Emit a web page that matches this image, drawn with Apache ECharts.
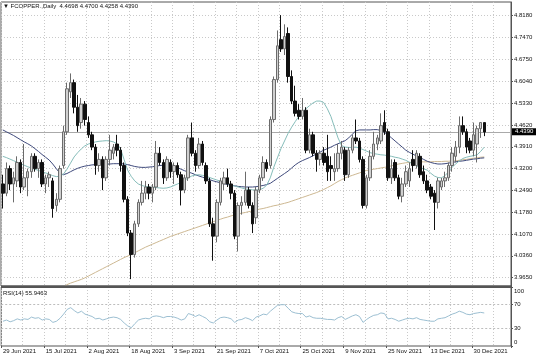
<!DOCTYPE html>
<html><head><meta charset="utf-8">
<script src="https://cdn.jsdelivr.net/npm/echarts@6/dist/echarts.min.js"></script>
<style>html,body{margin:0;padding:0;background:#fff}#c{width:536px;height:357px}</style>
</head><body><div id="c"></div>
<script>
const symbolName = 'FCOPPER.,Daily';
const tickLabels = ['29 Jun 2021','15 Jul 2021','2 Aug 2021','18 Aug 2021','3 Sep 2021','21 Sep 2021','7 Oct 2021','25 Oct 2021','9 Nov 2021','25 Nov 2021','13 Dec 2021','30 Dec 2021'];
const priceTicks = [3.9650,4.0360,4.1070,4.1780,4.2490,4.3200,4.3910,4.4620,4.5330,4.6040,4.6750,4.7470,4.8180];
const rsiTicks = [0,30,70,100];
const rsiLevels = [30,70];

const opens = [4.27,4.24,4.32,4.27,4.28,4.34,4.26,4.29,4.31,4.36, 4.32,4.34,4.27,4.29,4.28,4.20,4.22,4.33,4.44,4.57, 4.60,4.52,4.47,4.53,4.47,4.43,4.39,4.33,4.35,4.29, 4.35,4.37,4.40,4.38,4.33,4.22,4.11,4.04,4.14,4.21, 4.24,4.26,4.24,4.26,4.37,4.34,4.29,4.34,4.31,4.33, 4.30,4.25,4.29,4.42,4.37,4.33,4.40,4.33,4.28,4.14, 4.10,4.21,4.27,4.29,4.27,4.24,4.10,4.20,4.21,4.25, 4.20,4.16,4.25,4.29,4.34,4.33,4.48,4.61,4.74,4.71, 4.76,4.62,4.54,4.51,4.49,4.51,4.38,4.43,4.37,4.35, 4.37,4.36,4.33,4.31,4.32,4.37,4.38,4.30,4.38,4.42, 4.41,4.35,4.20,4.29,4.36,4.40,4.41,4.47,4.44,4.29, 4.34,4.29,4.23,4.27,4.28,4.35,4.33,4.36,4.31,4.28, 4.26,4.24,4.21,4.26,4.28,4.29,4.33,4.36,4.39,4.46, 4.44,4.41,4.38,4.40,4.45,4.4698];
const highs = [4.30,4.34,4.33,4.31,4.36,4.35,4.40,4.32,4.37,4.37, 4.35,4.35,4.30,4.31,4.29,4.24,4.33,4.46,4.60,4.63, 4.61,4.56,4.55,4.54,4.49,4.44,4.40,4.37,4.36,4.36, 4.43,4.40,4.43,4.39,4.34,4.23,4.12,4.15,4.22,4.28, 4.28,4.27,4.27,4.41,4.39,4.35,4.36,4.35,4.34,4.34, 4.31,4.30,4.43,4.47,4.38,4.42,4.41,4.34,4.29,4.16, 4.22,4.29,4.31,4.32,4.28,4.25,4.21,4.23,4.31,4.26, 4.21,4.26,4.30,4.36,4.35,4.49,4.62,4.77,4.82,4.79, 4.78,4.64,4.59,4.53,4.55,4.52,4.45,4.44,4.38,4.38, 4.39,4.43,4.36,4.37,4.40,4.41,4.39,4.39,4.43,4.48, 4.42,4.36,4.30,4.38,4.44,4.43,4.50,4.51,4.45,4.35, 4.35,4.30,4.29,4.33,4.34,4.38,4.38,4.37,4.33,4.30, 4.27,4.25,4.29,4.29,4.31,4.34,4.39,4.41,4.49,4.49, 4.45,4.42,4.47,4.46,4.47,4.4700];
const lows = [4.19,4.23,4.25,4.21,4.26,4.24,4.25,4.23,4.29,4.31, 4.29,4.26,4.24,4.26,4.16,4.18,4.21,4.32,4.43,4.55, 4.50,4.44,4.45,4.46,4.42,4.38,4.30,4.31,4.25,4.28, 4.33,4.35,4.36,4.31,4.21,4.10,3.96,4.03,4.13,4.20, 4.22,4.22,4.21,4.25,4.33,4.27,4.28,4.29,4.27,4.29, 4.20,4.24,4.28,4.36,4.31,4.32,4.33,4.27,4.13,4.02, 4.08,4.20,4.25,4.26,4.22,4.09,4.05,4.17,4.20,4.19, 4.11,4.14,4.24,4.28,4.31,4.32,4.47,4.60,4.70,4.69, 4.60,4.53,4.49,4.48,4.48,4.37,4.37,4.36,4.31,4.33, 4.33,4.28,4.28,4.28,4.31,4.35,4.28,4.29,4.37,4.40, 4.34,4.19,4.19,4.28,4.35,4.38,4.40,4.43,4.28,4.27, 4.28,4.22,4.21,4.26,4.26,4.31,4.32,4.29,4.27,4.24, 4.22,4.12,4.19,4.25,4.26,4.28,4.31,4.34,4.37,4.43, 4.37,4.37,4.36,4.34,4.42,4.4258];
const closes = [4.24,4.32,4.27,4.29,4.34,4.26,4.29,4.31,4.36,4.32, 4.34,4.27,4.29,4.30,4.19,4.22,4.32,4.44,4.58,4.60, 4.52,4.46,4.53,4.48,4.43,4.39,4.33,4.35,4.29,4.35, 4.38,4.39,4.38,4.33,4.22,4.11,4.04,4.14,4.21,4.24, 4.26,4.24,4.26,4.37,4.34,4.29,4.35,4.31,4.33,4.30, 4.25,4.29,4.42,4.37,4.33,4.40,4.34,4.28,4.14,4.10, 4.21,4.28,4.29,4.27,4.24,4.10,4.20,4.21,4.25,4.20, 4.14,4.25,4.29,4.34,4.32,4.48,4.61,4.72,4.71,4.75, 4.62,4.54,4.50,4.49,4.51,4.38,4.43,4.37,4.35,4.37, 4.34,4.31,4.32,4.32,4.37,4.39,4.30,4.38,4.42,4.41, 4.35,4.20,4.29,4.36,4.40,4.42,4.46,4.44,4.29,4.32, 4.29,4.23,4.27,4.31,4.32,4.33,4.37,4.30,4.28,4.25, 4.23,4.21,4.28,4.28,4.29,4.33,4.37,4.39,4.46,4.44, 4.39,4.38,4.43,4.45,4.47,4.4390];

const maDark = [4.446,4.440,4.434,4.428,4.421,4.414,4.407,4.401,4.394,4.385, 4.376,4.366,4.357,4.348,4.335,4.320,4.305,4.300,4.304,4.310, 4.316,4.321,4.325,4.328,4.330,4.332,4.333,4.334,4.334,4.335, 4.335,4.336,4.336,4.336,4.335,4.333,4.330,4.327,4.325,4.324, 4.324,4.325,4.326,4.328,4.330,4.331,4.331,4.330,4.327,4.323, 4.318,4.313,4.309,4.305,4.300,4.296,4.292,4.288,4.284,4.280, 4.277,4.274,4.271,4.268,4.266,4.264,4.262,4.261,4.260,4.260, 4.260,4.261,4.263,4.265,4.268,4.272,4.280,4.288,4.296,4.304, 4.312,4.322,4.332,4.340,4.346,4.351,4.356,4.362,4.368,4.374, 4.380,4.385,4.390,4.396,4.401,4.406,4.411,4.420,4.432,4.443, 4.446,4.446,4.446,4.446,4.447,4.447,4.444,4.438,4.430,4.420, 4.410,4.400,4.390,4.380,4.373,4.367,4.361,4.356,4.350,4.344, 4.340,4.337,4.335,4.335,4.336,4.338,4.340,4.342,4.344,4.345, 4.347,4.349,4.351,4.352,4.354,4.355];
const maTeal = [4.360,4.356,4.351,4.346,4.341,4.336,4.331,4.326,4.322,4.318, 4.314,4.310,4.306,4.302,4.297,4.294,4.295,4.302,4.318,4.338, 4.358,4.372,4.384,4.394,4.400,4.404,4.407,4.409,4.410,4.411, 4.410,4.407,4.401,4.385,4.350,4.315,4.295,4.280,4.270,4.265, 4.262,4.260,4.259,4.258,4.257,4.256,4.257,4.260,4.265,4.270, 4.275,4.282,4.290,4.296,4.299,4.300,4.298,4.295,4.291,4.287, 4.283,4.279,4.275,4.271,4.267,4.263,4.260,4.257,4.254,4.252, 4.251,4.250,4.251,4.256,4.266,4.290,4.325,4.355,4.385,4.410, 4.435,4.455,4.473,4.490,4.503,4.515,4.525,4.534,4.540,4.540, 4.535,4.515,4.490,4.455,4.420,4.395,4.390,4.389,4.389,4.390, 4.387,4.382,4.377,4.372,4.369,4.367,4.365,4.364,4.362,4.360, 4.357,4.355,4.351,4.347,4.341,4.335,4.329,4.324,4.319,4.315, 4.305,4.296,4.291,4.290,4.297,4.310,4.325,4.335,4.345,4.353, 4.357,4.360,4.362,4.365,4.376,4.390];
const maTan = [null,null,null,null,null,null,null,null,null,null, null,null,null,null,null,3.915,3.925,3.934,3.942,3.947, 3.951,3.955,3.959,3.964,3.970,3.976,3.982,3.988,3.994,4.000, 4.006,4.012,4.018,4.024,4.030,4.035,4.040,4.046,4.052,4.058, 4.064,4.069,4.074,4.079,4.084,4.089,4.094,4.099,4.103,4.107, 4.111,4.115,4.119,4.123,4.127,4.131,4.135,4.139,4.143,4.147, 4.151,4.155,4.159,4.162,4.166,4.169,4.172,4.175,4.177,4.180, 4.182,4.185,4.188,4.190,4.193,4.196,4.199,4.201,4.204,4.207, 4.210,4.214,4.218,4.222,4.226,4.230,4.234,4.238,4.242,4.247, 4.252,4.258,4.264,4.271,4.278,4.284,4.290,4.294,4.298,4.302, 4.306,4.310,4.314,4.316,4.318,4.320,4.322,4.324,4.326,4.329, 4.332,4.335,4.337,4.339,4.340,4.341,4.341,4.342,4.342,4.342, 4.342,4.343,4.343,4.343,4.344,4.344,4.345,4.345,4.347,4.349, 4.350,4.352,4.354,4.355,4.357,4.358];
const rsi = [42,44,41,43,46,44,46,45,49,47, 48,44,46,45,40,42,47,54,62,65, 60,56,59,54,52,50,46,47,44,46, 48,49,48,45,39,34,31,38,44,46, 47,46,50,51,50,48,50,50,49,47, 44,46,55,53,50,53,50,47,41,39, 44,48,49,48,46,40,44,45,48,46, 43,49,51,54,53,59,64,69,70,70, 64,58,56,55,55,49,51,48,47,47, 46,45,45,44,48,50,45,48,51,53, 50,40,45,49,52,53,56,55,46,47, 45,42,44,46,47,46,48,45,44,43, 42,42,46,47,48,51,54,56,59,57, 54,53,55,56,57,55.9463];

const emptySlots = 7;
const nCat = closes.length + emptySlots;
const cats = Array.from({length: nCat}, (_, i) => String(i));
const candleData = closes.map((c, i) => [opens[i], c, lows[i], highs[i]]);
const last = closes.length - 1;

const FONT = 'Liberation Sans, DejaVu Sans, sans-serif';
const gridLine = {show: true, lineStyle: {color: '#c9c9c9', type: [1, 2], width: 1}};
const vInterval = (i) => i % 6 === 0;

const chart = echarts.init(document.getElementById('c'), null, {renderer: 'canvas'});
chart.setOption({
  animation: false,
  backgroundColor: '#fff',
  textStyle: {fontFamily: FONT},
  title: [
    {text: '\u25BC ' + symbolName + '  ' + [opens[last], highs[last], lows[last], closes[last]].map(v => v.toFixed(4)).join(' '),
     left: 3, top: 3, padding: 0, textStyle: {fontSize: 6, fontWeight: 'normal', color: '#111', fontFamily: FONT}},
    {text: 'RSI(14) ' + rsi[last].toFixed(4),
     left: 3, top: 290, padding: 0, textStyle: {fontSize: 6, fontWeight: 'normal', color: '#111', fontFamily: FONT}}
  ],
  grid: [
    {left: 1, width: 510, top: 2, height: 284, show: true, borderColor: '#555', borderWidth: 1, containLabel: false},
    {left: 1, width: 510, top: 287, height: 59, show: true, borderColor: '#555', borderWidth: 1, containLabel: false}
  ],
  graphic: [
    {type: 'rect', left: 1, top: 285.5, shape: {width: 511, height: 2.5}, style: {fill: '#555'}, silent: true, z: 10}
  ],
  xAxis: [
    {type: 'category', gridIndex: 0, data: cats, boundaryGap: true,
     axisLine: {show: false}, axisTick: {show: false}, axisLabel: {show: false},
     splitLine: Object.assign({interval: vInterval}, gridLine)},
    {type: 'category', gridIndex: 1, data: cats, boundaryGap: true,
     axisLine: {show: false},
     axisTick: {show: true, interval: (i) => i % 12 === 0, length: 2, lineStyle: {color: '#555'}},
     axisLabel: {show: true, interval: (i) => i % 12 === 0 && i / 12 < tickLabels.length,
       formatter: (v, i) => tickLabels[Math.round(i / 12)] || '', align: 'left', margin: 2,
       fontSize: 6, color: '#111', fontFamily: FONT},
     splitLine: Object.assign({interval: vInterval}, gridLine)}
  ],
  yAxis: [
    {type: 'value', gridIndex: 0, position: 'right', min: 3.9376, max: 4.8627,
     axisLine: {show: true, lineStyle: {color: '#555'}},
     axisTick: {show: true, customValues: priceTicks, length: 2, lineStyle: {color: '#555'}},
     axisLabel: {customValues: priceTicks, formatter: (v) => v.toFixed(4), fontSize: 6, color: '#111', margin: 3, fontFamily: FONT},
     splitLine: gridLine},
    {type: 'value', gridIndex: 1, position: 'right', min: 0, max: 100,
     axisLine: {show: true, lineStyle: {color: '#555'}},
     axisTick: {show: true, customValues: rsiTicks, length: 2, lineStyle: {color: '#555'}},
     axisLabel: {customValues: rsiTicks, fontSize: 6, color: '#111', margin: 3, fontFamily: FONT,
       showMinLabel: true, showMaxLabel: true, hideOverlap: false,
       formatter: (v) => v === 100 ? '{t|100}' : (v === 0 ? '{b|0}' : String(v)),
       rich: {t: {fontSize: 6, padding: [9, 0, 0, 0], fontFamily: FONT, color: '#111'},
              b: {fontSize: 6, padding: [0, 0, 8, 0], fontFamily: FONT, color: '#111'}}},
     splitLine: {show: false}}
  ],
  series: [
    {name: 'MA long', type: 'line', xAxisIndex: 0, yAxisIndex: 0, data: maTan, symbol: 'none', clip: true,
     lineStyle: {color: '#cdb892', width: 1}, z: 2},
    {name: 'MA mid', type: 'line', xAxisIndex: 0, yAxisIndex: 0, data: maDark, symbol: 'none', clip: true,
     lineStyle: {color: '#3f4a7c', width: 1}, z: 2},
    {name: 'MA fast', type: 'line', xAxisIndex: 0, yAxisIndex: 0, data: maTeal, symbol: 'none', clip: true,
     lineStyle: {color: '#86bdba', width: 1}, z: 2},
    {name: symbolName, type: 'candlestick', xAxisIndex: 0, yAxisIndex: 0, data: candleData, barWidth: 3, clip: true, z: 3,
     itemStyle: {color: '#d0d0d0', borderColor: '#6b6b6b', color0: '#111', borderColor0: '#111', borderWidth: 1},
     markLine: {silent: true, symbol: ['none', 'none'], z: 1, animation: false,
       lineStyle: {color: '#aaaaaa', type: 'solid', width: 1},
       label: {show: true, position: 'end', distance: 1, formatter: () => closes[last].toFixed(4),
         backgroundColor: '#000', color: '#fff', fontSize: 6, padding: [1, 3, 0, 3], fontFamily: FONT},
       data: [{yAxis: closes[last]}]}},
    {name: 'RSI(14)', type: 'line', xAxisIndex: 1, yAxisIndex: 1, data: rsi, symbol: 'none',
     lineStyle: {color: '#9cbfd2', width: 1}, z: 3,
     markLine: {silent: true, symbol: ['none', 'none'], z: 1, animation: false, label: {show: false},
       lineStyle: {color: '#bdbdbd', type: [2, 2], width: 1},
       data: rsiLevels.map(v => ({yAxis: v}))}}
  ]
});
</script></body></html>
